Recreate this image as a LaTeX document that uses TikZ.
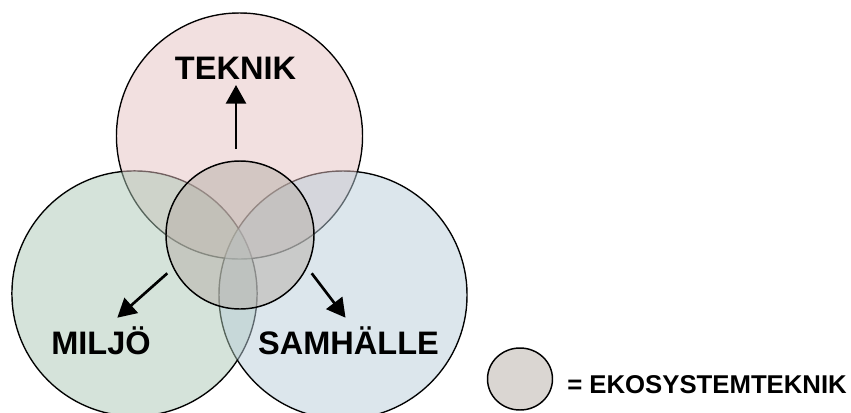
\documentclass[tikz,border=0pt]{standalone}
\usepackage{fontspec}
\setmainfont{Liberation Sans}
\usetikzlibrary{arrows.meta,shapes.geometric}
\definecolor{tekc}{RGB}{229,193,193}
\definecolor{milc}{RGB}{171,199,181}
\definecolor{samc}{RGB}{185,205,217}
\definecolor{ekoc}{RGB}{182,174,166}
\tikzset{
  ring/.style={draw=black,line width=1.1pt},
  tint/.style={fill opacity=0.5},
  lbl/.style={font=\fontsize{24.4}{28}\selectfont\bfseries,inner sep=0pt,anchor=base},
  arr/.style={line width=2pt,-{Triangle[length=14pt,width=15pt]}}
}
\begin{document}
\begin{tikzpicture}[x=0.75pt,y=-0.75pt]
\useasboundingbox (0,0) rectangle (851,412);
% outlines of the three big circles
\draw[ring] (239.5,136) circle[radius=92.25pt];
\draw[ring] (134.5,293.5) circle[radius=91.9pt];
\draw[ring] (343,295) circle[radius=93pt];
% translucent fills
\fill[tekc,tint] (239.5,136) circle[radius=91.75pt];
\fill[milc,tint] (134.5,293.5) circle[radius=91.4pt];
\fill[samc,tint] (343,295) circle[radius=92.5pt];
% central circle
\fill[ekoc,tint] (240,235) circle[radius=55.5pt];
\draw[ring] (240,235) circle[radius=55.5pt];
% labels
\node[lbl] (tek) at (235.5,79) {TEKNIK};
\node[lbl] (mil) at (101,354) {MILJÖ};
\node[lbl] (sam) at (348.5,354) {SAMHÄLLE};
% arrows
\coordinate (a1) at (236,149);
\coordinate (t1) at (236,85);
\coordinate (a2) at (167.3,273.3);
\coordinate (t2) at (117.3,317.7);
\coordinate (a3) at (311.7,273.3);
\coordinate (t3) at (345.5,317.7);
\draw[arr] (a1) -- (t1);
\draw[arr] (a2) -- (t2);
\draw[arr] (a3) -- (t3);
% legend
\node[draw=black,line width=1.1pt,fill=ekoc,fill opacity=0.5,draw opacity=1,ellipse,inner sep=0pt,minimum width=48.75pt,minimum height=46.5pt] (leg) at (520,379) {};
\node[inner sep=0pt,anchor=base west,font=\fontsize{19.3}{23}\selectfont\bfseries] (legt) at (567,393) {= EKOSYSTEMTEKNIK};
\end{tikzpicture}
\end{document}
